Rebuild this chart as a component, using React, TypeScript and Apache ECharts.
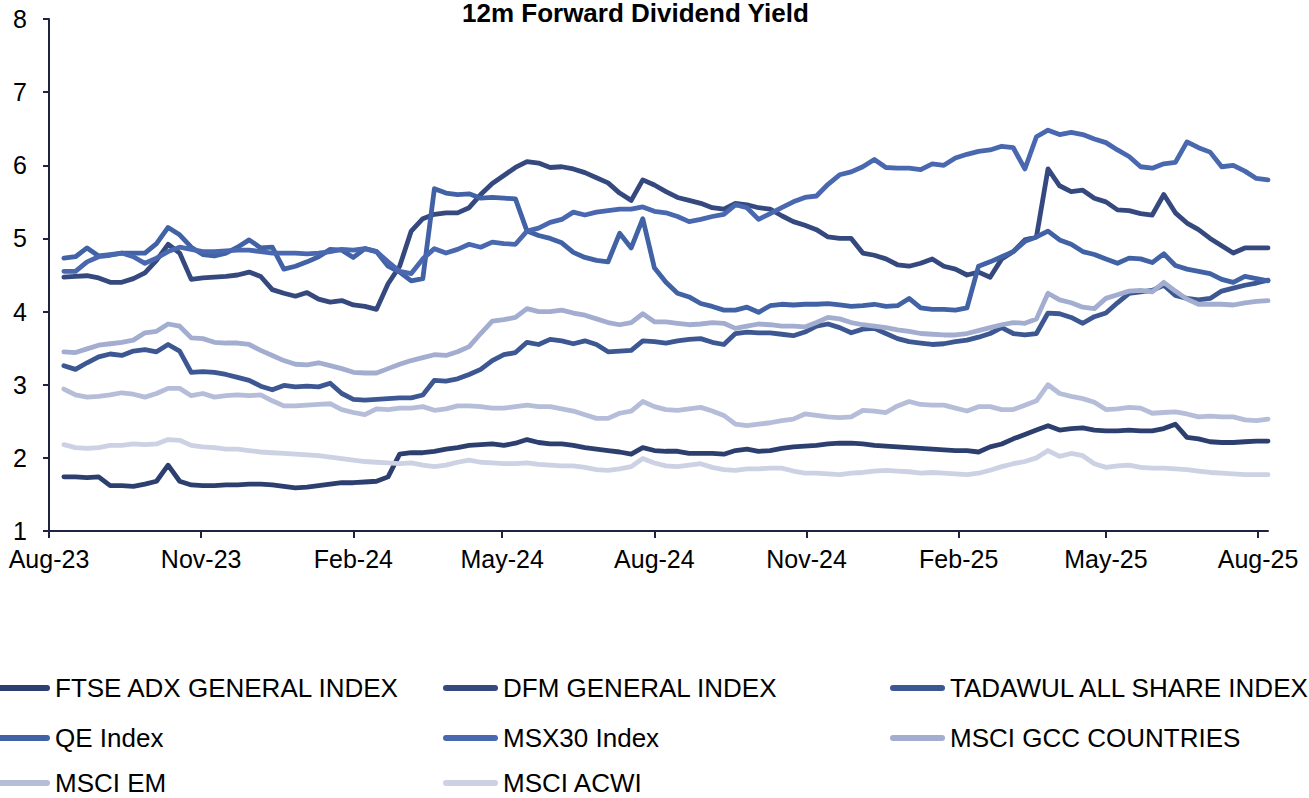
import React, { useEffect, useRef } from "react";
import * as echarts from "echarts";

const DAY = 86400000;
const FIRST_SAMPLE = Date.UTC(2023, 7, 10);
const SAMPLE_COUNT = 105;
const sampleDates: number[] = Array.from({ length: SAMPLE_COUNT }, (_, i) => FIRST_SAMPLE + i * 7 * DAY);

const tickDates: number[] = [
  Date.UTC(2023, 7, 1), Date.UTC(2023, 10, 1), Date.UTC(2024, 1, 1), Date.UTC(2024, 4, 1),
  Date.UTC(2024, 7, 1), Date.UTC(2024, 10, 1), Date.UTC(2025, 1, 1), Date.UTC(2025, 4, 1),
  Date.UTC(2025, 7, 1),
];
const monthNames = ["Jan", "Feb", "Mar", "Apr", "May", "Jun", "Jul", "Aug", "Sep", "Oct", "Nov", "Dec"];

const seriesNames = [
  "FTSE ADX GENERAL INDEX", "DFM GENERAL INDEX", "TADAWUL ALL SHARE INDEX",
  "QE Index", "MSX30 Index", "MSCI GCC COUNTRIES", "MSCI EM", "MSCI ACWI",
];

const adx = [
  1.74, 1.74, 1.73, 1.74, 1.62, 1.62, 1.61, 1.64, 1.68, 1.90,
  1.68, 1.63, 1.62, 1.62, 1.63, 1.63, 1.64, 1.64, 1.63, 1.61,
  1.59, 1.60, 1.62, 1.64, 1.66, 1.66, 1.67, 1.68, 1.74, 2.05,
  2.07, 2.07, 2.09, 2.12, 2.14, 2.17, 2.18, 2.19, 2.17, 2.20,
  2.25, 2.21, 2.19, 2.19, 2.17, 2.14, 2.12, 2.10, 2.08, 2.05,
  2.14, 2.10, 2.09, 2.09, 2.06, 2.06, 2.06, 2.05, 2.10, 2.12,
  2.09, 2.10, 2.13, 2.15, 2.16, 2.17, 2.19, 2.20, 2.20, 2.19,
  2.17, 2.16, 2.15, 2.14, 2.13, 2.12, 2.11, 2.10, 2.10, 2.08,
  2.15, 2.19, 2.26, 2.32, 2.38, 2.44, 2.38, 2.40, 2.41, 2.38,
  2.37, 2.37, 2.38, 2.37, 2.37, 2.40, 2.46, 2.28, 2.26, 2.22,
  2.21, 2.21, 2.22, 2.23, 2.23,
];

const dfm = [
  4.47, 4.48, 4.49, 4.46, 4.40, 4.40, 4.45, 4.53, 4.70, 4.92,
  4.80, 4.44, 4.46, 4.47, 4.48, 4.50, 4.54, 4.48, 4.30, 4.25,
  4.21, 4.26, 4.17, 4.13, 4.15, 4.09, 4.07, 4.03, 4.38, 4.62,
  5.10, 5.27, 5.33, 5.35, 5.35, 5.42, 5.60, 5.75, 5.86, 5.97,
  6.05, 6.03, 5.97, 5.98, 5.95, 5.90, 5.83, 5.76, 5.62, 5.52,
  5.80, 5.73, 5.64, 5.56, 5.52, 5.48, 5.42, 5.40, 5.48, 5.46,
  5.42, 5.40, 5.31, 5.23, 5.18, 5.12, 5.02, 5.00, 5.00, 4.80,
  4.77, 4.72, 4.64, 4.62, 4.66, 4.72, 4.62, 4.58, 4.50, 4.54,
  4.47, 4.72, 4.82, 4.98, 5.02, 5.95, 5.72, 5.64, 5.66, 5.55,
  5.50, 5.39, 5.38, 5.34, 5.32, 5.60, 5.35, 5.21, 5.12, 5.00,
  4.90, 4.80, 4.87, 4.87, 4.87,
];

const tadawul = [
  3.26, 3.21, 3.30, 3.38, 3.42, 3.40, 3.46, 3.48, 3.45, 3.55,
  3.46, 3.17, 3.18, 3.17, 3.14, 3.10, 3.06, 2.98, 2.93, 2.99,
  2.97, 2.98, 2.97, 3.02, 2.88, 2.80, 2.79, 2.80, 2.81, 2.82,
  2.82, 2.86, 3.06, 3.05, 3.08, 3.14, 3.21, 3.33, 3.41, 3.44,
  3.58, 3.55, 3.62, 3.60, 3.56, 3.60, 3.55, 3.45, 3.46, 3.47,
  3.60, 3.59, 3.57, 3.60, 3.62, 3.63, 3.58, 3.55, 3.70, 3.72,
  3.71, 3.71, 3.69, 3.67, 3.72, 3.80, 3.83, 3.78, 3.71, 3.76,
  3.77, 3.70, 3.63, 3.59, 3.57, 3.55, 3.56, 3.59, 3.61, 3.65,
  3.70, 3.78, 3.70, 3.68, 3.70, 3.98, 3.97, 3.92, 3.84, 3.93,
  3.98, 4.12, 4.25, 4.27, 4.29, 4.36, 4.22, 4.18, 4.16, 4.18,
  4.28, 4.32, 4.36, 4.39, 4.43,
];

const qe = [
  4.73, 4.75, 4.87, 4.76, 4.78, 4.80, 4.80, 4.80, 4.93, 5.15,
  5.05, 4.88, 4.78, 4.76, 4.80, 4.88, 4.98, 4.87, 4.88, 4.58,
  4.62, 4.68, 4.75, 4.85, 4.84, 4.74, 4.86, 4.82, 4.62, 4.54,
  4.42, 4.45, 5.68, 5.62, 5.60, 5.61, 5.55, 5.56, 5.55, 5.54,
  5.10, 5.04, 5.00, 4.94, 4.81, 4.74, 4.70, 4.68, 5.07, 4.87,
  5.27, 4.60, 4.40, 4.25, 4.20, 4.11, 4.07, 4.02, 4.02, 4.06,
  3.99, 4.08, 4.10, 4.09, 4.10, 4.10, 4.11, 4.09, 4.07, 4.08,
  4.10, 4.07, 4.08, 4.18, 4.05, 4.03, 4.03, 4.02, 4.05, 4.62,
  4.68, 4.75, 4.82, 4.96, 5.02, 5.10, 4.98, 4.92, 4.82, 4.78,
  4.72, 4.66, 4.73, 4.72, 4.67, 4.79, 4.63, 4.58, 4.55, 4.52,
  4.44, 4.40, 4.48, 4.45, 4.42,
];

const msx30 = [
  4.55, 4.55, 4.68, 4.75, 4.77, 4.80, 4.75, 4.66, 4.73, 4.82,
  4.88, 4.85, 4.82, 4.82, 4.83, 4.84, 4.84, 4.82, 4.80, 4.80,
  4.80, 4.79, 4.80, 4.82, 4.85, 4.84, 4.86, 4.82, 4.68, 4.55,
  4.52, 4.72, 4.86, 4.80, 4.85, 4.92, 4.88, 4.95, 4.93, 4.92,
  5.10, 5.14, 5.22, 5.26, 5.36, 5.32, 5.36, 5.38, 5.40, 5.40,
  5.43, 5.37, 5.35, 5.30, 5.23, 5.26, 5.30, 5.33, 5.46, 5.42,
  5.26, 5.34, 5.42, 5.50, 5.56, 5.58, 5.74, 5.87, 5.91, 5.98,
  6.08, 5.97, 5.96, 5.96, 5.94, 6.02, 6.00, 6.10, 6.15, 6.19,
  6.21, 6.26, 6.24, 5.95, 6.39, 6.48, 6.42, 6.45, 6.42, 6.36,
  6.31, 6.21, 6.12, 5.98, 5.96, 6.02, 6.04, 6.32, 6.24, 6.18,
  5.98, 6.00, 5.92, 5.82, 5.80,
];

const gcc = [
  3.45, 3.44, 3.49, 3.54, 3.56, 3.58, 3.61, 3.71, 3.73, 3.83,
  3.80, 3.64, 3.63, 3.58, 3.57, 3.57, 3.55, 3.47, 3.40, 3.33,
  3.28, 3.27, 3.30, 3.26, 3.22, 3.17, 3.16, 3.16, 3.22, 3.28,
  3.33, 3.37, 3.41, 3.40, 3.45, 3.52, 3.70, 3.87, 3.89, 3.92,
  4.04, 4.00, 4.00, 4.02, 3.98, 3.95, 3.90, 3.85, 3.82, 3.85,
  3.97, 3.86, 3.86, 3.84, 3.82, 3.83, 3.85, 3.84, 3.77, 3.80,
  3.83, 3.82, 3.80, 3.80, 3.79, 3.85, 3.92, 3.90, 3.85, 3.82,
  3.80, 3.78, 3.75, 3.73, 3.70, 3.69, 3.68, 3.68, 3.70, 3.74,
  3.78, 3.82, 3.85, 3.84, 3.90, 4.25, 4.16, 4.12, 4.06, 4.04,
  4.18, 4.23, 4.28, 4.29, 4.27, 4.40, 4.28, 4.17, 4.10, 4.10,
  4.10, 4.09, 4.12, 4.14, 4.15,
];

const em = [
  2.94, 2.86, 2.83, 2.84, 2.86, 2.89, 2.87, 2.83, 2.88, 2.95,
  2.95, 2.85, 2.88, 2.83, 2.85, 2.86, 2.85, 2.86, 2.78, 2.71,
  2.71, 2.72, 2.73, 2.74, 2.66, 2.62, 2.59, 2.67, 2.66, 2.68,
  2.68, 2.70, 2.65, 2.67, 2.71, 2.71, 2.70, 2.68, 2.68, 2.70,
  2.72, 2.70, 2.70, 2.67, 2.64, 2.59, 2.54, 2.54, 2.61, 2.64,
  2.77, 2.70, 2.66, 2.65, 2.67, 2.69, 2.64, 2.58, 2.46, 2.44,
  2.46, 2.48, 2.51, 2.53, 2.60, 2.58, 2.56, 2.55, 2.56, 2.65,
  2.64, 2.62, 2.71, 2.77, 2.73, 2.72, 2.72, 2.68, 2.64, 2.70,
  2.70, 2.66, 2.66, 2.72, 2.78, 3.00, 2.88, 2.84, 2.81, 2.76,
  2.66, 2.67, 2.69, 2.68, 2.61, 2.62, 2.63, 2.60, 2.56, 2.57,
  2.56, 2.56, 2.52, 2.51, 2.53,
];

const acwi = [
  2.18, 2.14, 2.13, 2.14, 2.17, 2.17, 2.19, 2.18, 2.19, 2.25,
  2.24, 2.17, 2.15, 2.14, 2.12, 2.12, 2.10, 2.08, 2.07, 2.06,
  2.05, 2.04, 2.03, 2.01, 1.99, 1.97, 1.95, 1.94, 1.93, 1.92,
  1.93, 1.90, 1.88, 1.90, 1.94, 1.97, 1.94, 1.93, 1.92, 1.92,
  1.93, 1.91, 1.90, 1.89, 1.89, 1.87, 1.84, 1.83, 1.85, 1.88,
  1.99, 1.93, 1.89, 1.88, 1.90, 1.92, 1.87, 1.84, 1.83, 1.85,
  1.85, 1.86, 1.86, 1.82, 1.79, 1.79, 1.78, 1.77, 1.79, 1.80,
  1.82, 1.83, 1.82, 1.81, 1.79, 1.80, 1.79, 1.78, 1.77, 1.79,
  1.83, 1.88, 1.92, 1.95, 2.00, 2.10, 2.02, 2.06, 2.03, 1.92,
  1.87, 1.89, 1.90, 1.87, 1.86, 1.86, 1.85, 1.84, 1.82, 1.80,
  1.79, 1.78, 1.77, 1.77, 1.77,
];

const seriesValues = [adx, dfm, tadawul, qe, msx30, gcc, em, acwi];
const seriesColors = ["#2D3F6E", "#35497F", "#3D5793", "#4262A6", "#4968AF", "#A2ADD0", "#B5BDD9", "#CCD1E4"];

const FONT = "'Liberation Sans', Arial, Helvetica, sans-serif";
const AXIS_COLOR = "#1E2440";
const PILL = "path://M3,0L52,0A3,3,0,0,1,52,6L3,6A3,3,0,0,1,3,0Z";

// legend slots: [series index, column, row]
const legendColumns = [-5, 443, 890];
const legendRows = [675, 725, 770];
const legendSlots: [number, number, number][] = [
  [0, 0, 0], [1, 1, 0], [2, 2, 0],
  [3, 0, 1], [4, 1, 1], [5, 2, 1],
  [6, 0, 2], [7, 1, 2],
];

export default function App() {
  const ref = useRef<HTMLDivElement>(null);

  useEffect(() => {
    if (!ref.current) return;
    const chart = echarts.init(ref.current, null, { renderer: "svg" });
    const option = {
      animation: false,
      backgroundColor: "#fff",
      title: {
        text: "12m Forward Dividend Yield",
        left: 462,
        top: 0,
        padding: 0,
        textStyle: { fontFamily: FONT, fontSize: 26, fontWeight: "bold", color: "#000" },
      },
      legend: legendSlots.map(([s, c, r]) => ({
        show: true,
        orient: "horizontal",
        left: legendColumns[c],
        top: legendRows[r],
        padding: 0,
        itemWidth: 55,
        itemHeight: 6,
        icon: PILL,
        selectedMode: false,
        data: [seriesNames[s]],
        textStyle: { fontFamily: FONT, fontSize: 26, color: "#000" },
      })),
      grid: { left: 49, right: 41, top: 19, bottom: 267, containLabel: false },
      xAxis: {
        type: "value",
        min: Date.UTC(2023, 7, 1),
        max: Date.UTC(2025, 7, 7),
        splitLine: { show: false },
        axisLine: { show: true, onZero: false, lineStyle: { color: AXIS_COLOR, width: 2 } },
        axisTick: { show: true, length: 7, lineStyle: { color: AXIS_COLOR, width: 2 }, customValues: tickDates },
        axisLabel: {
          customValues: tickDates,
          margin: 15,
          fontFamily: FONT,
          fontSize: 25,
          color: "#000",
          showMinLabel: true,
          showMaxLabel: true,
          formatter: (v: number) => {
            const d = new Date(v);
            return monthNames[d.getUTCMonth()] + "-" + String(d.getUTCFullYear()).slice(2);
          },
        },
      },
      yAxis: {
        type: "value",
        min: 1,
        max: 8,
        interval: 1,
        splitLine: { show: false },
        axisLine: { show: true, lineStyle: { color: AXIS_COLOR, width: 2 } },
        axisTick: { show: true, length: 6, lineStyle: { color: AXIS_COLOR, width: 2 } },
        axisLabel: { margin: 22, fontFamily: FONT, fontSize: 25, color: "#000" },
      },
      series: seriesNames.map((name, k) => ({
        name,
        type: "line",
        showSymbol: false,
        symbol: "none",
        color: seriesColors[k],
        lineStyle: { width: 4.8, color: seriesColors[k], cap: "round", join: "round" },
        emphasis: { disabled: true },
        data: sampleDates.map((d, i) => [d, seriesValues[k][i]]),
        z: 2 + k,
      })),
    };
    chart.setOption(option as any);
    return () => chart.dispose();
  }, []);

  return (
    <div
      ref={ref}
      style={{ position: "absolute", left: 0, top: 0, width: 1309, height: 798, background: "#fff" }}
    />
  );
}
